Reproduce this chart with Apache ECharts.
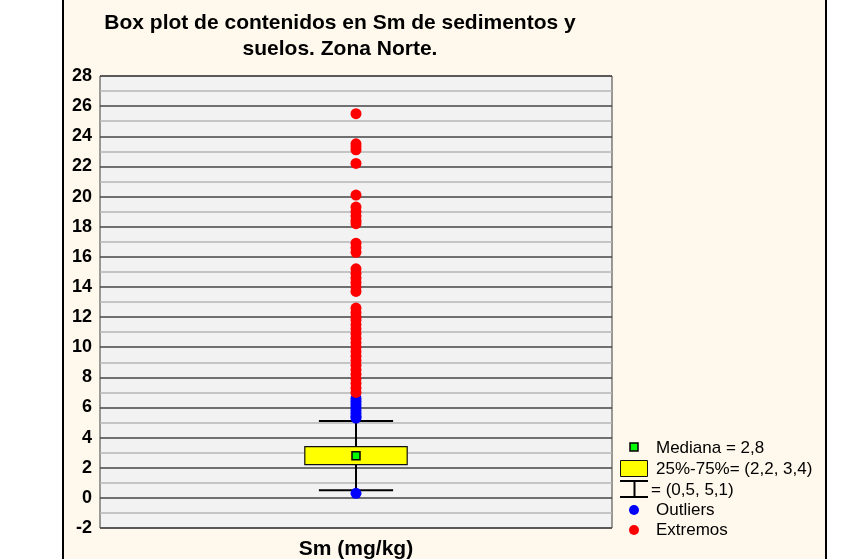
<!DOCTYPE html>
<html>
<head>
<meta charset="utf-8">
<title>Box plot Sm - Zona Norte</title>
<script src="https://cdn.jsdelivr.net/npm/echarts@6/dist/echarts.min.js"></script>
<style>
  html, body { margin: 0; padding: 0; background: #ffffff; }
  #boxplot { width: 849px; height: 559px; }
</style>
</head>
<body>
<div id="boxplot"></div>
<script>
// categoria del eje x
const categories = ['Sm (mg/kg)'];
// [bigote inferior, Q1, mediana, Q3, bigote superior]
const boxStats = [0.5, 2.2, 2.8, 3.4, 5.1];
// valores atipicos (azul) y extremos (rojo)
const outliers = [0.3, 5.3, 5.4, 5.6, 5.8, 6.0, 6.2, 6.4, 6.6];
const extremos = [
  25.5,
  23.5, 23.3, 23.1, 22.2,
  20.1, 19.3, 19.0, 18.7, 18.4, 18.2,
  16.9, 16.6, 16.3,
  15.2, 14.9, 14.6, 14.3, 14.0, 13.7,
  12.6, 12.3, 12.0, 11.8, 11.5, 11.2, 10.9, 10.6, 10.3, 10.0,
  9.7, 9.4, 9.1, 8.8, 8.5, 8.2, 7.9, 7.6, 7.3, 7.0
];
const yTicks = { min: -2, max: 28, step: 2 };

const fmt = v => String(v).replace('.', ',');

const chart = echarts.init(document.getElementById('boxplot'));

function renderBox(params, api) {
  const x = api.value(0);
  const lo = api.coord([x, api.value(1)]);
  const q1 = api.coord([x, api.value(2)]);
  const med = api.coord([x, api.value(3)]);
  const q3 = api.coord([x, api.value(4)]);
  const hi = api.coord([x, api.value(5)]);
  const band = api.size([1, 0])[0];
  const bw = band * 0.2;     // ancho de la caja
  const cw = band * 0.145;   // ancho de los topes
  const cx = lo[0];
  const line = { stroke: '#000', lineWidth: 2 };
  return {
    type: 'group',
    children: [
      { type: 'line', shape: { x1: cx, y1: hi[1], x2: cx, y2: q3[1] }, style: line },
      { type: 'line', shape: { x1: cx, y1: q1[1], x2: cx, y2: lo[1] }, style: line },
      { type: 'line', shape: { x1: cx - cw / 2, y1: hi[1], x2: cx + cw / 2, y2: hi[1] }, style: line },
      { type: 'line', shape: { x1: cx - cw / 2, y1: lo[1], x2: cx + cw / 2, y2: lo[1] }, style: line },
      { type: 'rect', shape: { x: cx - bw / 2, y: q3[1], width: bw, height: q1[1] - q3[1] },
        style: { fill: '#ffff00', stroke: '#111', lineWidth: 1.2 } },
      { type: 'rect', shape: { x: cx - 4, y: med[1] - 4, width: 8, height: 8 },
        style: { fill: '#00ff00', stroke: '#000', lineWidth: 1.5 } }
    ]
  };
}

const legendFont = '17px Arial, "Liberation Sans", sans-serif';

const option = {
  backgroundColor: '#ffffff',
  animation: false,
  graphic: [
    // panel crema
    { type: 'rect', z: -10, silent: true,
      shape: { x: 63, y: -5, width: 763, height: 570 },
      style: { fill: '#fff8ec', stroke: '#000', lineWidth: 2 } },
    // titulo
    { type: 'text', z: 10, x: 340, y: 10,
      style: { text: 'Box plot de contenidos en Sm de sedimentos y\nsuelos. Zona Norte.',
        font: 'bold 21px Arial, "Liberation Sans", sans-serif', fill: '#000',
        textAlign: 'center', textVerticalAlign: 'top', lineHeight: 26 } },
    // leyenda
    { type: 'rect', shape: { x: 630, y: 443, width: 8, height: 8 },
      style: { fill: '#00ff00', stroke: '#000', lineWidth: 1.5 } },
    { type: 'text', x: 656, y: 448,
      style: { text: 'Mediana = ' + fmt(boxStats[2]), font: legendFont, fill: '#000', textVerticalAlign: 'middle' } },
    { type: 'rect', shape: { x: 620.5, y: 460.5, width: 27, height: 16 },
      style: { fill: '#ffff00', stroke: '#111', lineWidth: 1 } },
    { type: 'text', x: 656, y: 469,
      style: { text: '25%-75%= (' + fmt(boxStats[1]) + ', ' + fmt(boxStats[3]) + ')', font: legendFont, fill: '#000', textVerticalAlign: 'middle' } },
    { type: 'line', shape: { x1: 620, y1: 481, x2: 648, y2: 481 }, style: { stroke: '#000', lineWidth: 2 } },
    { type: 'line', shape: { x1: 634.5, y1: 481, x2: 634.5, y2: 497 }, style: { stroke: '#000', lineWidth: 2 } },
    { type: 'line', shape: { x1: 620, y1: 497, x2: 648, y2: 497 }, style: { stroke: '#000', lineWidth: 2 } },
    { type: 'text', x: 651, y: 490,
      style: { text: '= (' + fmt(boxStats[0]) + ', ' + fmt(boxStats[4]) + ')', font: legendFont, fill: '#000', textVerticalAlign: 'middle' } },
    { type: 'circle', shape: { cx: 634, cy: 510, r: 5 }, style: { fill: '#0000ff' } },
    { type: 'text', x: 656, y: 510,
      style: { text: 'Outliers', font: legendFont, fill: '#000', textVerticalAlign: 'middle' } },
    { type: 'circle', shape: { cx: 634, cy: 530, r: 5 }, style: { fill: '#ff0000' } },
    { type: 'text', x: 656, y: 530,
      style: { text: 'Extremos', font: legendFont, fill: '#000', textVerticalAlign: 'middle' } }
  ],
  grid: {
    left: 100, right: 237, top: 76, bottom: 31,
    outerBoundsMode: 'none',
    show: true, backgroundColor: '#f2f2f2', borderColor: '#3a3a3a', borderWidth: 1
  },
  xAxis: {
    type: 'category',
    data: categories,
    name: categories[0],
    nameLocation: 'middle',
    nameGap: 11,
    nameTextStyle: { fontFamily: 'Arial', fontWeight: 'bold', fontSize: 21, color: '#000' },
    axisLine: { show: false },
    axisTick: { show: false },
    axisLabel: { show: false },
    splitLine: { show: false }
  },
  yAxis: {
    type: 'value',
    min: yTicks.min,
    max: yTicks.max,
    interval: yTicks.step,
    axisLine: { show: false },
    axisTick: { show: false },
    axisLabel: { fontFamily: 'Arial', fontWeight: 'bold', fontSize: 18, color: '#000', margin: 8 },
    splitLine: { show: true, lineStyle: { color: '#444444', width: 1.6 } },
    minorTick: { show: false, splitNumber: 2 },
    minorSplitLine: { show: true, lineStyle: { color: '#b5b5b5', width: 1.5 } }
  },
  series: [
    {
      type: 'custom',
      renderItem: renderBox,
      encode: { x: 0, y: [1, 2, 3, 4, 5] },
      data: [[0].concat(boxStats)],
      z: 3
    },
    {
      name: 'Outliers',
      type: 'scatter',
      symbolSize: 11,
      itemStyle: { color: '#0000ff', opacity: 1 },
      data: outliers.map(v => [0, v]),
      z: 4
    },
    {
      name: 'Extremos',
      type: 'scatter',
      symbolSize: 11,
      itemStyle: { color: '#ff0000', opacity: 1 },
      data: extremos.map(v => [0, v]),
      z: 5
    }
  ]
};

chart.setOption(option);
</script>
</body>
</html>
